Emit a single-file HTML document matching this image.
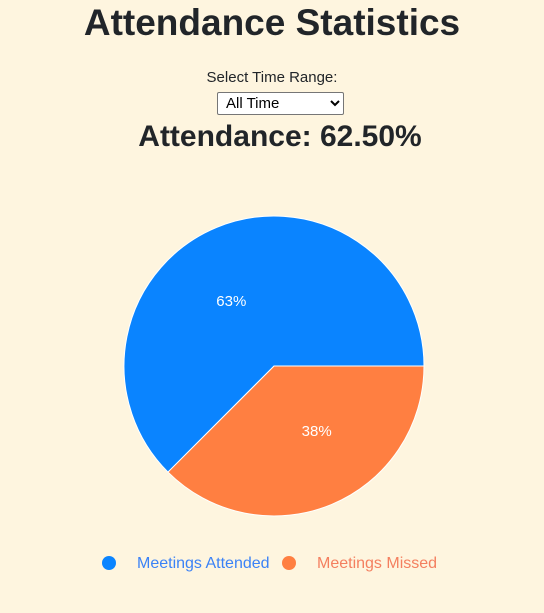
<!DOCTYPE html>
<html><head><meta charset="utf-8">
<style>
body{margin:0;width:544px;height:613px;background:#fef5df;font-family:"Liberation Sans",sans-serif;color:#212529;position:relative;overflow:hidden}
#title{position:absolute;left:0;width:544px;top:1px;text-align:center;font-size:37px;font-weight:bold;line-height:44px;margin:0}
#lbl{position:absolute;left:0;width:544px;top:69px;text-align:center;font-size:15px}
#sel{position:absolute;left:217px;top:92px;width:127px;height:23px;font-size:15px;font-family:"Liberation Sans",sans-serif;background:#fff;border:1px solid #767676;border-radius:2px;box-sizing:border-box;padding:0 4px}
#att{position:absolute;left:8px;width:544px;top:117px;text-align:center;font-size:30px;font-weight:bold;line-height:40px;margin:0}
svg{position:absolute;left:0;top:0}
</style></head><body>
<h1 id="title">Attendance Statistics</h1>
<div id="lbl">Select Time Range:</div>
<select id="sel"><option>All Time</option></select>
<h2 id="att">Attendance: 62.50%</h2>
<svg id="chart" width="544" height="613"></svg>
<script>
const categories=["Meetings Attended","Meetings Missed"];
const values=[62.5,37.5];
const colors=["#0a84ff","#ff7f41"];
const textColors=["#3b82f6","#f47f5f"];
const svg=document.getElementById('chart');const NS="http://www.w3.org/2000/svg";
const cx=274,cy=366,r=150;
const total=values.reduce((a,b)=>a+b,0);
let start=0;
const order=[1,0];
order.forEach(i=>{
  const ang=values[i]/total*2*Math.PI;
  const a0=start,a1=start+ang;
  const x0=cx+r*Math.cos(a0),y0=cy+r*Math.sin(a0),x1=cx+r*Math.cos(a1),y1=cy+r*Math.sin(a1);
  const p=document.createElementNS(NS,'path');
  p.setAttribute('d',`M${cx},${cy}L${x0},${y0}A${r},${r} 0 ${ang>Math.PI?1:0} 1 ${x1},${y1}Z`);
  p.setAttribute('fill',colors[i]);p.setAttribute('stroke','#fff');p.setAttribute('stroke-width','1');
  
  
  svg.appendChild(p);
  const mid=(a0+a1)/2;
  const lx=cx+r*0.5*Math.cos(mid)+(Math.cos(mid)>0?14:-14);
  const t=document.createElementNS(NS,'text');
  t.setAttribute('x',lx);t.setAttribute('y',cy+r*0.47*Math.sin(mid)+5);
  t.setAttribute('text-anchor','middle');t.setAttribute('fill','#fff');t.setAttribute('font-size','15');
  t.textContent=Math.round(values[i]/total*100)+'%';
  
  
  svg.appendChild(t);
  start=a1;
});
const legX=[109,289];
categories.forEach((c,i)=>{
  const g=document.createElementNS(NS,'g');
  
  
  const d=document.createElementNS(NS,'circle');
  d.setAttribute('cx',legX[i]);d.setAttribute('cy',563);d.setAttribute('r',7);d.setAttribute('fill',colors[i]);
  g.appendChild(d);
  const t=document.createElementNS(NS,'text');
  t.setAttribute('x',legX[i]+28);t.setAttribute('y',568);t.setAttribute('font-size','16');t.setAttribute('fill',textColors[i]);
  t.textContent=c;g.appendChild(t);svg.appendChild(g);
});
</script>
</body></html>
